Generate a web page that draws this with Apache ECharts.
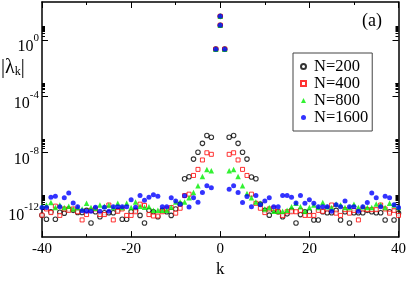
<!DOCTYPE html>
<html>
<head>
<meta charset="utf-8">
<script src="https://cdn.jsdelivr.net/npm/echarts@6/dist/echarts.min.js"></script>
<style>html,body{margin:0;padding:0;background:#fff}#c{width:409px;height:283px}</style>
</head>
<body>
<div id="c"></div>
<script>
// k values (x axis)
const kValues = [-40,-39,-38,-37,-36,-35,-34,-33,-32,-31,-30,-29,-28,-27,-26,-25,-24,-23,-22,-21,
  -20,-19,-18,-17,-16,-15,-14,-13,-12,-11,-10,-9,-8,-7,-6,-5,-4,-3,-2,-1,0,
  1,2,3,4,5,6,7,8,9,10,11,12,13,14,15,16,17,18,19,20,21,22,23,24,25,26,27,28,29,30,
  31,32,33,34,35,36,37,38,39,40];
// log10 |lambda_k| for each N (null at k=0; the k=0 modes are listed separately)
const expN200 = [-12.45,-12.73,-12.2,-12.73,-12.24,-12.3,-12.0,-12.1,-12.25,-12.25,
  -12.1,-13.0,-12.2,-12.55,-12.27,-12.27,-12.27,-12.1,-12.73,-12.73,
  -12.2,-12.1,-12.46,-13.0,-12.1,-12.2,-12.55,-12.1,-12.2,-12.46,
  -12.0,-11.66,-9.85,-9.71,-8.46,-7.97,-7.34,-6.78,-6.91,-0.65, null,
  -0.65,-6.91,-6.78,-7.34,-7.97,-8.46,-9.73,-9.85,-11.66,-12.1,
  -12.44,-12.1,-12.2,-12.55,-12.35,-12.1,-13.0,-12.4,-12.2,-12.2,
  -12.78,-12.78,-12.2,-12.27,-12.27,-12.1,-12.78,-12.2,-13.0,-12.27,
  -12.27,-12.27,-12.1,-12.2,-12.27,-12.27,-12.78,-12.2,-12.78,-12.3];
const expN400 = [-12.44,-12.0,-12.26,-11.8,-12.46,-12.0,-12.1,-12.0,-12.2,-12.78,
  -12.4,-12.1,-12.0,-12.4,-12.4,-11.72,-12.78,-12.17,-12.0,-12.46,
  -12.46,-12.2,-11.66,-11.75,-12.4,-12.5,-12.5,-12.2,-12.0,-11.9,
  -12.3,-11.95,-11.05,-10.95,-9.62,-9.19,-8.52,-8.01,-8.12,-0.65, null,
  -0.65,-8.12,-8.01,-8.52,-9.19,-9.62,-10.95,-11.6,-11.95,-12.26,
  -12.0,-11.95,-12.2,-12.46,-12.2,-12.2,-12.2,-12.1,-12.46,-12.46,
  -12.46,-12.1,-12.17,-12.0,-11.72,-12.3,-12.46,-12.05,-12.3,-12.1,
  -12.78,-12.0,-12.05,-12.05,-12.05,-11.72,-12.0,-12.3,-12.1,-12.46];
const expN800 = [-11.8,-11.72,-11.54,-11.9,-11.72,-11.9,-11.8,-12.0,-11.9,-12.0,
  -11.6,-11.9,-11.95,-11.72,-11.8,-11.72,-11.9,-11.6,-11.9,-11.6,
  -11.9,-11.5,-11.8,-11.88,-11.85,-12.1,-12.1,-12.1,-12.1,-11.88,
  -11.5,-11.5,-11.5,-11.2,-10.83,-10.36,-9.69,-9.19,-9.29,-0.65, null,
  -0.65,-9.29,-9.19,-9.69,-10.36,-10.9,-11.2,-11.5,-11.6,-12.0,
  -11.9,-12.17,-12.17,-12.17,-12.1,-11.84,-11.6,-11.84,-12.17,-11.9,
  -11.72,-11.9,-11.55,-11.84,-11.9,-11.65,-11.72,-11.9,-11.9,-11.66,
  -11.9,-11.84,-11.9,-11.9,-11.65,-11.7,-11.9,-11.6,-11.72,-11.9];
const expN1600 = [-11.9,-11.9,-11.17,-11.1,-11.84,-11.2,-10.87,-11.57,-11.84,-12.13,
  -12.17,-12.17,-11.88,-12.17,-11.88,-12.17,-11.84,-11.84,-11.84,-11.84,
  -11.34,-11.88,-11.05,-11.39,-11.17,-11.0,-11.1,-11.84,-11.84,-11.21,
  -11.43,-11.66,-11.07,-11.86,-11.21,-11.52,-10.83,-10.36,-10.5,-0.65, null,
  -0.65,-10.6,-10.36,-10.83,-11.55,-11.12,-11.84,-11.05,-11.7,-11.43,
  -11.21,-11.84,-11.84,-11.05,-11.05,-11.17,-11.57,-11.05,-11.6,-11.34,
  -11.6,-11.84,-11.84,-11.84,-12.17,-11.7,-11.84,-11.43,-11.84,-11.84,
  -12.17,-11.84,-11.55,-10.87,-11.21,-11.84,-11.1,-11.21,-11.7,-11.9];
// the two k=0 modes (same for every N)
const zeroModeExp = [1.68, 1.05];
// axis ticks
const majorExp = [-12, -8, -4, 0];
const minorMantissa = [2, 3, 4, 5, 6, 7, 8, 9];
const seriesNames = ['N=200', 'N=400', 'N=800', 'N=1600'];

const minorExp = [];
majorExp.forEach(e => minorMantissa.forEach(m => minorExp.push(e + Math.log10(m))));

function toData(arr) {
  const d = [];
  kValues.forEach((k, i) => { if (arr[i] !== null) d.push([k, arr[i]]); });
  zeroModeExp.forEach(v => d.push([0, v]));
  return d;
}

const FONT = "'Liberation Serif','DejaVu Serif',serif";
const yMin = -14, yMax = 2.7;
const lineBlack = {color: '#000', width: 1.5};

const chart = echarts.init(document.getElementById('c'), null, {renderer: 'canvas'});
const yBase = {type: 'value', min: yMin, max: yMax, splitLine: {show: false}};
chart.setOption({
  animation: false,
  backgroundColor: '#fff',
  grid: {left: 42, right: 9, top: 2, bottom: 32, containLabel: false},
  xAxis: [
    {type: 'value', position: 'bottom', min: -40, max: 40, interval: 20,
     name: 'k', nameLocation: 'middle', nameGap: 20,
     nameTextStyle: {fontFamily: FONT, fontSize: 17, color: '#000'},
     axisLine: {show: true, onZero: false, lineStyle: lineBlack},
     axisTick: {show: true, inside: true, length: 6, lineStyle: {color: '#000', width: 1}},
     minorTick: {show: true, splitNumber: 2, length: 3, lineStyle: {color: '#000', width: 1}},
     axisLabel: {fontFamily: FONT, fontSize: 15, color: '#000', margin: 4},
     splitLine: {show: false}},
    {type: 'value', position: 'top', min: -40, max: 40, interval: 20,
     axisLine: {show: true, onZero: false, lineStyle: lineBlack},
     axisTick: {show: true, inside: true, length: 6, lineStyle: {color: '#000', width: 1}},
     minorTick: {show: true, splitNumber: 2, length: 3, lineStyle: {color: '#000', width: 1}},
     axisLabel: {show: false}, splitLine: {show: false}}
  ],
  yAxis: [
    Object.assign({}, yBase, {position: 'left',
      axisLine: {show: true, onZero: false, lineStyle: lineBlack},
      axisTick: {show: true, inside: true, length: 6, customValues: majorExp, lineStyle: {color: '#000', width: 1}},
      axisLabel: {customValues: majorExp, margin: 3, color: '#000', padding: [8, 0, 0, 0],
        formatter: v => '{b|10}{s|' + v + '}',
        rich: {b: {fontFamily: FONT, fontSize: 16, lineHeight: 22, verticalAlign: 'bottom', color: '#000'},
               s: {fontFamily: FONT, fontSize: 11, lineHeight: 11, verticalAlign: 'top', color: '#000'}}}}),
    Object.assign({}, yBase, {position: 'right',
      axisLine: {show: true, onZero: false, lineStyle: lineBlack},
      axisTick: {show: true, inside: true, length: 6, customValues: majorExp, lineStyle: {color: '#000', width: 1}},
      axisLabel: {show: false}}),
    Object.assign({}, yBase, {position: 'left',
      axisLine: {show: false, onZero: false},
      axisTick: {show: true, inside: true, length: 3, customValues: minorExp, lineStyle: {color: '#000', width: 1}},
      axisLabel: {show: false}}),
    Object.assign({}, yBase, {position: 'right',
      axisLine: {show: false, onZero: false},
      axisTick: {show: true, inside: true, length: 3, customValues: minorExp, lineStyle: {color: '#000', width: 1}},
      axisLabel: {show: false}})
  ],
  legend: {
    orient: 'vertical', left: 293, top: 53,
    padding: [5, 4, 5, 7], itemGap: 0,
    itemWidth: 5, itemHeight: 5,
    borderColor: '#444', borderWidth: 1, borderRadius: 0,
    textStyle: {fontFamily: FONT, fontSize: 16.5, lineHeight: 15.5, color: '#000', padding: [0, 0, 0, 3]},
    data: seriesNames
  },
  graphic: [
    {type: 'text', left: 1, top: 58,
     style: {text: '|λ{sub|k}|', fontFamily: FONT, fontSize: 20, fill: '#000',
       rich: {sub: {fontFamily: FONT, fontSize: 12, verticalAlign: 'bottom', lineHeight: 9, fill: '#000'}}}},
    {type: 'text', left: 362, top: 12,
     style: {text: '(a)', fontFamily: FONT, fontSize: 18, fill: '#000'}}
  ],
  series: [
    {name: seriesNames[0], type: 'scatter', xAxisIndex: 0, yAxisIndex: 0, data: toData(expN200),
     symbol: 'circle', symbolSize: 4.5,
     itemStyle: {color: 'rgba(255,255,255,0)', borderColor: '#000', borderWidth: 1.1}},
    {name: seriesNames[1], type: 'scatter', xAxisIndex: 0, yAxisIndex: 0, data: toData(expN400),
     symbol: 'rect', symbolSize: 4,
     itemStyle: {color: '#ffffff', borderColor: '#ff0000', borderWidth: 1}},
    {name: seriesNames[2], type: 'scatter', xAxisIndex: 0, yAxisIndex: 0, data: toData(expN800),
     symbol: 'triangle', symbolSize: 5.5, itemStyle: {color: '#00ee00'}},
    {name: seriesNames[3], type: 'scatter', xAxisIndex: 0, yAxisIndex: 0, data: toData(expN1600),
     symbol: 'circle', symbolSize: 5, itemStyle: {color: '#0000ff'}}
  ]
});
</script>
</body>
</html>
